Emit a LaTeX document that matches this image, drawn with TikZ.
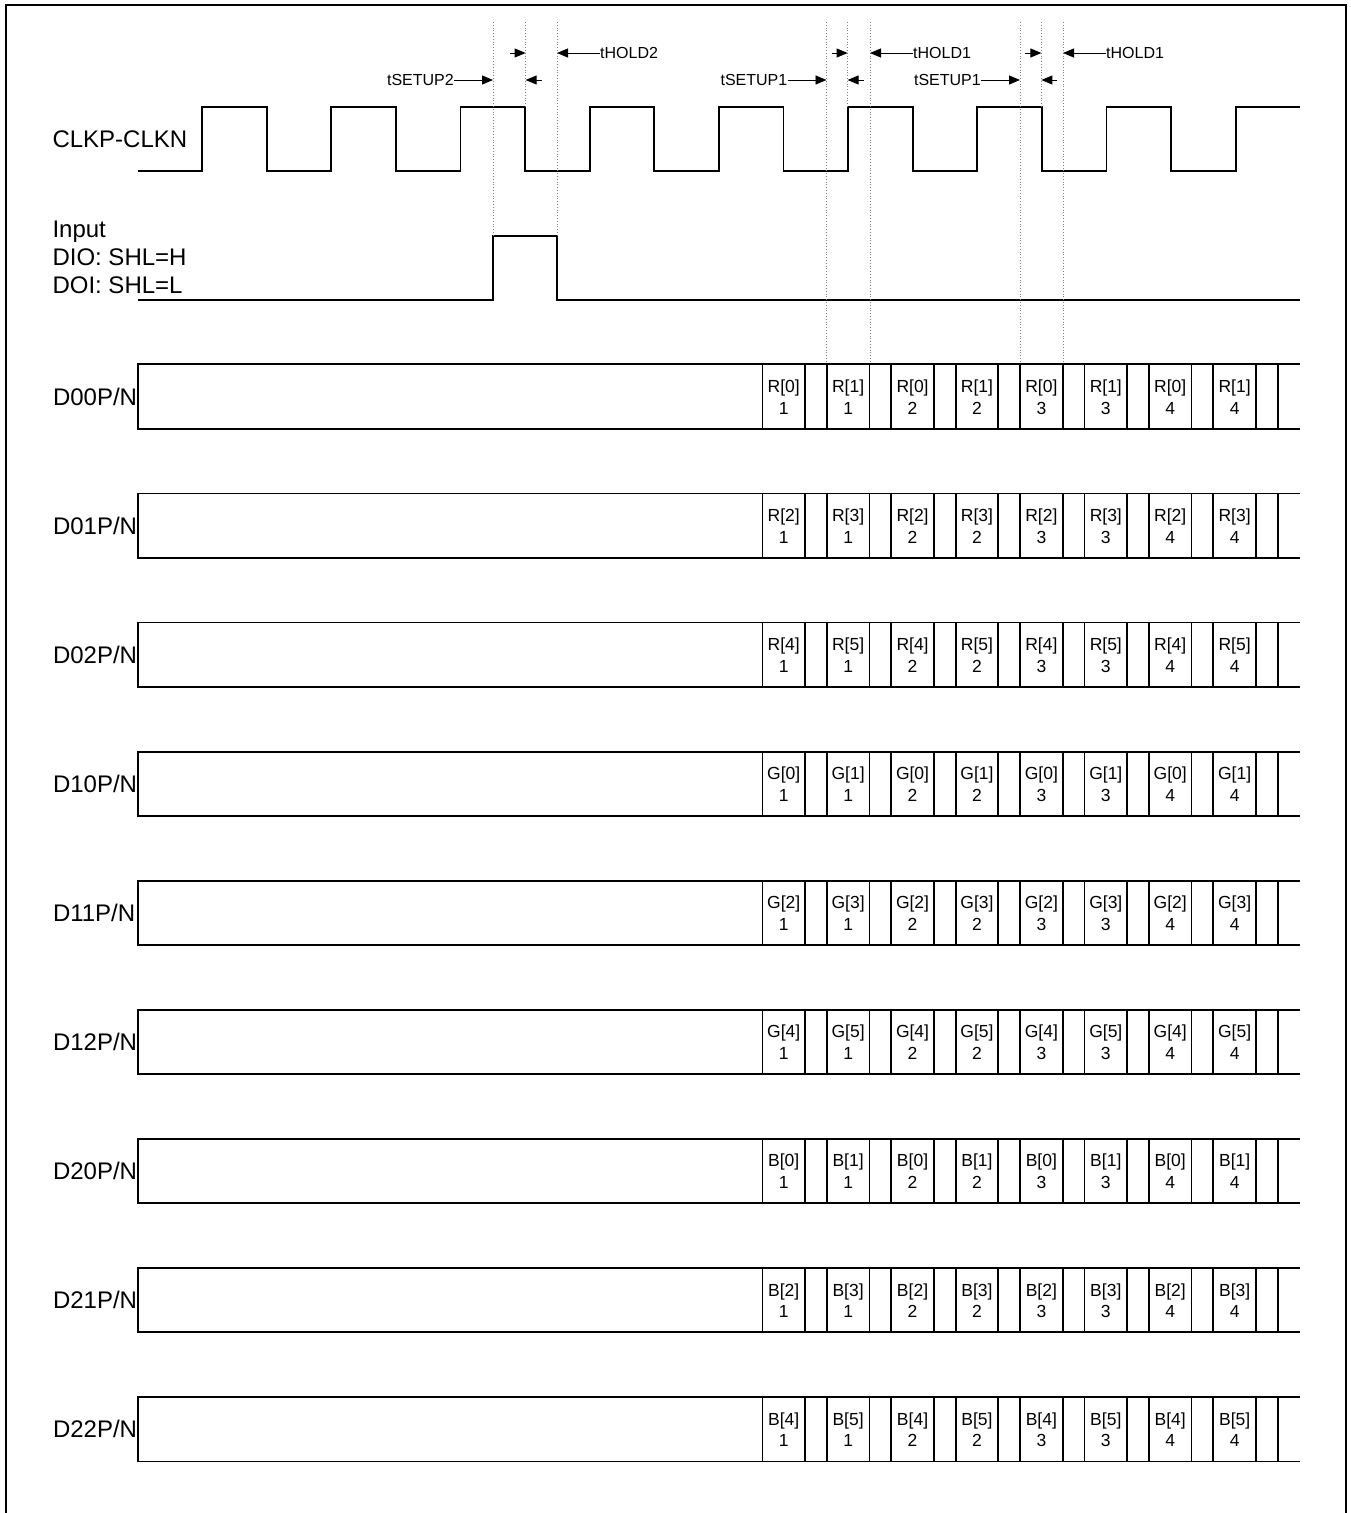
\documentclass[tikz,border=0pt]{standalone}
\usepackage{fontspec}
\setmainfont{Liberation Sans}
\usetikzlibrary{arrows.meta}
\begin{document}
\begin{tikzpicture}[x=1pt,y=-1pt,
  wave/.style={line width=1.8pt, line join=miter},
  frameline/.style={line width=2pt},
  guide/.style={dotted, line width=0.8pt, gray},
  arr/.style={line width=0.9pt, -{Triangle[length=11pt,width=9pt]}},
  siglbl/.style={font=\fontsize{24}{28}\selectfont, inner sep=0pt, anchor=base west},
  tlbl/.style={font=\fontsize{16}{19}\selectfont, inner sep=0pt},
  celltxt/.style={font=\fontsize{17.5}{21}\selectfont, inner sep=0pt, anchor=base},
]
\useasboundingbox (0,0) rectangle (1350,1513);
\draw[frameline] (6,1515) -- (6,5) -- (1346,5) -- (1346,1515);

% labels
\node[siglbl] (lclk) at (52.3,147) {CLKP-CLKN};
\node[siglbl] (lin1) at (52.3,237.3) {Input};
\node[siglbl] (lin2) at (52.3,265.7) {DIO: SHL=H};
\node[siglbl] (lin3) at (52.3,293.5) {DOI: SHL=L};

% clock
\draw[wave] (138,171)
  \foreach \k in {0,...,7} { -- ({202+129.2*\k},171) -- ({202+129.2*\k},107) -- ({266.6+129.2*\k},107) -- ({266.6+129.2*\k},171) }
  -- (1235.6,171) -- (1235.6,107) -- (1300,107);

% input
\draw[wave] (138,300) -- (493,300) -- (493,236) -- (557,236) -- (557,300) -- (1300,300);

% guide lines
\draw[guide] (493,22) -- (493,236);
\draw[guide] (525.6,22) -- (525.6,107);
\draw[guide] (557,22) -- (557,236);
\draw[guide] (826.5,22) -- (826.5,364);
\draw[guide] (847.6,22) -- (847.6,107);
\draw[guide] (870,22) -- (870,364);
\draw[guide] (1020,22) -- (1020,364);
\draw[guide] (1041.4,22) -- (1041.4,107);
\draw[guide] (1063,22) -- (1063,364);

% timing arrows
\foreach \g/\S/\E/\H/\ts/\th in {1/493/525.6/557/tSETUP2/tHOLD2, 2/826.5/847.6/870/tSETUP1/tHOLD1, 3/1020/1041.4/1063/tSETUP1/tHOLD1} {
  \coordinate (su\g) at (\S,80);
  \coordinate (eu\g) at (\E,53);
  \coordinate (el\g) at (\E,80);
  \coordinate (ho\g) at (\H,53);
  \coordinate (eus\g) at ({\E-16},53);
  \coordinate (els\g) at ({\E+16},80);
  \node[tlbl, anchor=base east] (ts\g) at ({\S-39},85.5) {\ts};
  \node[tlbl, anchor=base west] (th\g) at ({\H+43},58.5) {\th};
  \draw[arr] (ts\g.east |- su\g) -- (su\g);
  \draw[arr] (th\g.west |- ho\g) -- (ho\g);
  \draw[arr] (eus\g) -- (eu\g);
  \draw[arr] (els\g) -- (el\g);
}

% data rows
\foreach \i/\L/\a/\b/\nm in {0/R/0/1/D00,1/R/2/3/D01,2/R/4/5/D02,3/G/0/1/D10,4/G/2/3/D11,5/G/4/5/D12,6/B/0/1/D20,7/B/2/3/D21,8/B/4/5/D22} {
  \pgfmathsetmacro\rtop{364.3+129.1*\i}
  \pgfmathsetmacro\rbot{\rtop+64.3}
  \node[siglbl] (lab\i) at (52.8,{\rtop+40.7}) {\nm P/N};
  \draw[wave] (1300,\rtop) -- (137.7,\rtop) -- (137.7,\rbot) -- (1300,\rbot);
  \foreach \k in {0,...,8} {
    \draw[wave, line cap=butt] ({762.4+64.42*\k},\rtop) -- ({762.4+64.42*\k},\rbot);
  }
  \foreach \k in {0,...,7} {
    \draw[wave, line cap=butt] ({805+64.42*\k},\rtop) -- ({805+64.42*\k},\rbot);
    \pgfmathtruncatemacro\idx{int(\k/2)+1}
    \ifodd\k \edef\cellsub{\b}\else\edef\cellsub{\a}\fi
    \node[celltxt] (c\i-\k-t) at ({783.7+64.42*\k},{\rtop+28}) {\L[\cellsub]};
    \node[celltxt] (c\i-\k-b) at ({783.7+64.42*\k},{\rtop+49.7}) {\idx};
  }
}
\end{tikzpicture}
\end{document}
